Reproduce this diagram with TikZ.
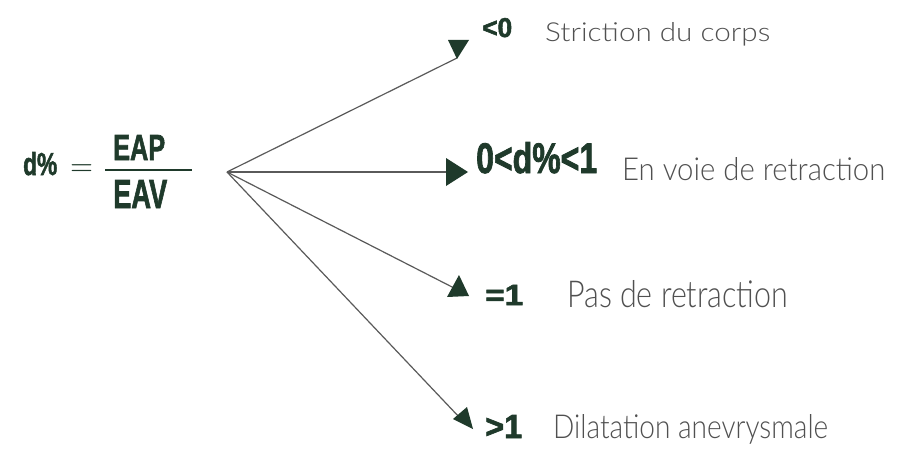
\documentclass[tikz,border=0pt]{standalone}
\usepackage{graphicx}
\usepackage{fontspec}
\setmainfont{Liberation Sans}
\newfontfamily\numfont[FakeBold=2]{Liberation Sans}
\newfontfamily\handfont{Lato Light}
\definecolor{dkgreen}{HTML}{1F3A2B}
\definecolor{handgray}{HTML}{505050}
\definecolor{linegray}{HTML}{5A5A5A}
\tikzset{
  numlabel/.style={inner sep=0pt, anchor=base west, text=dkgreen, font=\numfont\bfseries},
  handlabel/.style={inner sep=0pt, anchor=base west, text=handgray, font=\handfont},
  conn/.style={draw=linegray, line width=1.2pt},
  tiphead/.style={fill=dkgreen, draw=none},
}
\begin{document}
\begin{tikzpicture}[x=1pt,y=-1pt]
\useasboundingbox[fill=white] (0,0) rectangle (912,452);

% ratio d% = EAP / EAV
\node[numlabel] (d) at (23,175) {\resizebox{34pt}{23pt}{d\%}};
\node[inner sep=0pt, text=dkgreen] (eq) at (81.5,170) {\resizebox{23pt}{!}{$=$}};
\node[numlabel] (eap) at (113,160) {\resizebox{52pt}{25pt}{EAP}};
\node[numlabel] (eav) at (113,208) {\resizebox{54pt}{28pt}{EAV}};
\coordinate (barL) at (105,170);
\coordinate (barR) at (192,170);
\draw[dkgreen, line width=1.6pt] (barL) -- (barR);

% branching point and arrow ends
\coordinate (o) at (227,172);
\coordinate (e1) at (457,58);
\coordinate (e2) at (450,172);
\coordinate (e3) at (456,289);
\coordinate (e4) at (460,418);

\draw[conn] (o) -- (e1);
\draw[conn] (o) -- (e2);
\draw[conn] (o) -- (e3);
\draw[conn] (o) -- (e4);

% hand-drawn triangular heads
\fill[tiphead] (448,40) -- (469,40) -- (457,59) -- cycle;
\fill[tiphead] (446,158) -- (446,186) -- (468,172) -- cycle;
\fill[tiphead] (459,275) -- (447,297) -- (469,296) -- cycle;
\fill[tiphead] (453,419) -- (467,407) -- (473,429) -- cycle;

% outcomes
\node[numlabel] (v1) at (482,37) {\resizebox{30pt}{19pt}{<0}};
\node[handlabel] (t1) at (545,42) {\resizebox{225pt}{19pt}{Striction du corps}};

\node[numlabel] (v2) at (476,173) {\resizebox{121pt}{31pt}{0<d\%<1}};
\node[handlabel] (t2) at (622,180) {\resizebox{263pt}{23pt}{En voie de retraction}};

\node[numlabel] (v3) at (485,305) {\resizebox{38pt}{20pt}{=1}};
\node[handlabel] (t3) at (567,307) {\resizebox{221pt}{27pt}{Pas de retraction}};

\node[numlabel] (v4) at (485,438) {\resizebox{37pt}{23pt}{>1}};
\node[handlabel] (t4) at (553,438) {\resizebox{275pt}{24pt}{Dilatation anevrysmale}};
\end{tikzpicture}
\end{document}
